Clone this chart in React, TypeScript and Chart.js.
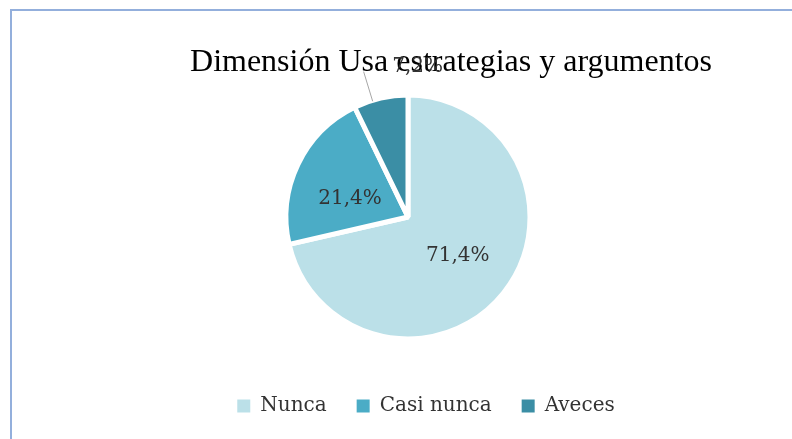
import React, { useEffect, useRef } from "react";
import { Chart, registerables } from "chart.js";
Chart.register(...registerables);

const categories = ["Nunca", "Casi nunca", "Aveces"];
const values = [71.4, 21.4, 7.2];
const colors = ["#bbe0e8", "#4bacc6", "#3b8ea5"];
const titleText = "Dimensión Usa estrategias y argumentos";

const fmt = (v: number) => v.toFixed(1).replace(".", ",") + "%";

const titlePlugin = {
  id: "customTitle",
  beforeDatasetsDraw(chart: any) {
    const ctx = chart.ctx;
    const ca = chart.chartArea;
    ctx.save();
    ctx.font = '32px "Liberation Serif"';
    ctx.fillStyle = "#000000";
    ctx.textAlign = "center";
    ctx.textBaseline = "alphabetic";
    ctx.fillText(titleText, (ca.left + ca.right) / 2 + 43, 71);
    ctx.restore();
  },
};

const labelPlugin = {
  id: "sliceLabels",
  afterDatasetsDraw(chart: any) {
    const ctx = chart.ctx;
    const meta = chart.getDatasetMeta(0);
    ctx.save();
    ctx.font = '20px "DejaVu Serif"';
    ctx.fillStyle = "#333333";
    ctx.textAlign = "center";
    ctx.textBaseline = "middle";
    meta.data.forEach((arc: any, i: number) => {
      const p = arc.getProps(["x", "y", "startAngle", "endAngle", "outerRadius"], true);
      const text = fmt(values[i]);
      if (i < 2) {
        const t = arc.tooltipPosition(true);
        const dx = i === 1 ? -3 : 2;
        const dy = i === 1 ? 8 : 1;
        ctx.fillText(text, t.x + dx, t.y + dy);
      } else {
        const mid = (p.startAngle + p.endAngle) / 2 - 0.07;
        const r1 = p.outerRadius - 1;
        const r2 = p.outerRadius + 30;
        const x1 = p.x + Math.cos(mid) * r1;
        const y1 = p.y + Math.sin(mid) * r1;
        const x2 = p.x + Math.cos(mid) * r2;
        const y2 = p.y + Math.sin(mid) * r2;
        ctx.strokeStyle = "#a6a6a6";
        ctx.lineWidth = 1;
        ctx.beginPath();
        ctx.moveTo(x1, y1);
        ctx.lineTo(x2, y2);
        ctx.stroke();
        ctx.fillText(text, x2 + 54, y2 - 5);
      }
    });
    ctx.restore();
  },
};

const legendShift = {
  id: "legendShift",
  afterLayout(chart: any) {
    const lg = chart.legend;
    if (!lg) return;
    lg.left += 18;
    lg.right += 18;
    lg.top -= 13;
    lg.bottom -= 13;
  },
};

export default function App() {
  const ref = useRef<HTMLCanvasElement>(null);
  useEffect(() => {
    const chart = new Chart(ref.current!, {
      type: "pie",
      data: {
        labels: categories,
        datasets: [
          {
            data: values,
            backgroundColor: colors,
            borderColor: "#ffffff",
            borderWidth: 5,
            radius: 122,
          },
        ],
      },
      options: {
        responsive: false,
        animation: false,
        layout: { padding: { left: 40, right: 16, top: 55, bottom: 0 } },
        plugins: {
          title: { display: false },
          tooltip: { enabled: false },
          legend: {
            position: "bottom",
            labels: {
              boxWidth: 13,
              boxHeight: 13,
              padding: 30,
              color: "#333333",
              font: { family: "'DejaVu Serif'", size: 20 },
              generateLabels: (c: any) =>
                (Chart as any).overrides.pie.plugins.legend.labels
                  .generateLabels(c)
                  .map((l: any) => ({ ...l, lineWidth: 0 })),
            },
          },
        },
      },
      plugins: [titlePlugin, labelPlugin, legendShift],
    });
    return () => chart.destroy();
  }, []);
  return (
    <div
      style={{
        position: "fixed",
        left: 0,
        top: 0,
        width: 792,
        height: 439,
        background: "#ffffff",
        overflow: "hidden",
      }}
    >
      <div
        style={{
          position: "absolute",
          left: 10,
          top: 9,
          right: 0,
          bottom: 0,
          borderTop: "2px solid #93afdc",
          borderLeft: "2px solid #93afdc",
        }}
      />
      <canvas
        ref={ref}
        width={792}
        height={439}
        style={{ position: "absolute", left: 0, top: 0, width: 792, height: 439 }}
      />
    </div>
  );
}
